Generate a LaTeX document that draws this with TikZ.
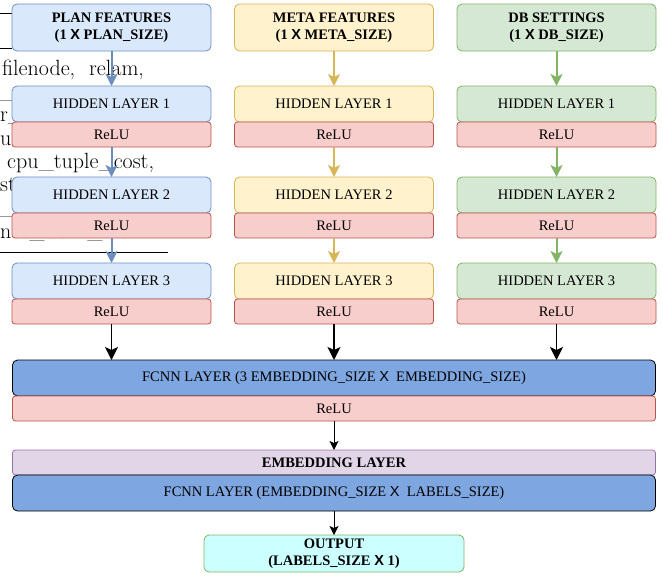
\documentclass[tikz,border=0pt]{standalone}
\usepackage{fontspec}
\usepackage{tikz}
\newfontfamily\labelfont{Liberation Serif}
\newfontfamily\crossfont{Liberation Sans}
\newcommand{\crossx}{{\crossfont X}}
\usetikzlibrary{shapes,arrows.meta,positioning}
\definecolor{planfill}{HTML}{DAE8FC}
\definecolor{plandraw}{HTML}{6C8EBF}
\definecolor{metafill}{HTML}{FFF2CC}
\definecolor{metadraw}{HTML}{D6B656}
\definecolor{dbfill}{HTML}{D5E8D4}
\definecolor{dbdraw}{HTML}{82B366}
\definecolor{relufill}{HTML}{F8CECC}
\definecolor{reludraw}{HTML}{B85450}
\definecolor{embfill}{HTML}{E1D5E7}
\definecolor{embdraw}{HTML}{9673A6}
\definecolor{fcnnfill}{HTML}{7EA6E0}
\definecolor{outfill}{HTML}{CCFFFF}
\tikzstyle{layer} = [draw, rectangle, rounded corners=5pt, line width=0.8pt,
minimum width=199pt, minimum height=36pt, inner sep=0pt, outer sep=0pt,
font=\labelfont\fontsize{14.5}{17}\selectfont]
\tikzstyle{feature} = [layer, minimum height=47pt, align=center,
font=\labelfont\bfseries\fontsize{14.5}{17}\selectfont]
\tikzstyle{relu} = [layer, rounded corners=3pt, minimum height=25pt,
fill=relufill, draw=reludraw, node contents=ReLU]
\tikzstyle{flow} = [line width=2pt, -{Stealth[length=12pt,width=12pt,inset=3pt]}]
\tikzstyle{merge} = [line width=1.6pt, -{Stealth[length=13pt,width=13pt,inset=3pt]}]
\tikzstyle{thinflow} = [line width=1pt, -{Stealth[length=9pt,width=9pt,inset=2pt]}]
\tikzstyle{bgtext} = [anchor=base west, inner sep=0pt, font=\fontsize{22}{24}\selectfont]

\begin{document}
\begin{tikzpicture}[x=1pt, y=-1pt]
		\useasboundingbox (0,0) rectangle (663,576);
		% text of the page behind the figure
		\draw (0,13) -- (12,13);
		\draw (0,48) -- (12,48);
		\draw (0,252) -- (168,252);
		\node(bgone)[bgtext] at (2,75) {filenode,\hspace{14pt}relam,};
		\node(bgtwo)[bgtext] at (0,98) {\_\ c};
		\node(bgthree)[bgtext] at (0,121.5) {r\_};
		\node(bgfour)[bgtext] at (0,145) {ul};
		\node(bgfive)[bgtext] at (7,168) {cpu\_tuple\_cost,};
		\node(bgsix)[bgtext] at (0,191) {st};
		\node(bgseven)[bgtext] at (0,214.5) {\_i};
		\node(bgeight)[bgtext] at (0,238) {nce\_work\_mem};
		
		% plan column
		\node(planfeat)[feature, fill=planfill, draw=plandraw] at (111.5,27.5) {PLAN FEATURES\\(1 \crossx{} PLAN\_SIZE)};
		\node(planhid1)[layer, fill=planfill, draw=plandraw, below=35pt of planfeat]{HIDDEN LAYER 1};
		\node(planrelu1)[relu, below=0pt of planhid1];
		\node(planhid2)[layer, fill=planfill, draw=plandraw, below=30pt of planrelu1]{HIDDEN LAYER 2};
		\node(planrelu2)[relu, below=0pt of planhid2];
		\node(planhid3)[layer, fill=planfill, draw=plandraw, below=25pt of planrelu2]{HIDDEN LAYER 3};
		\node(planrelu3)[relu, below=0pt of planhid3];
		
		% meta column
		\node(metafeat)[feature, fill=metafill, draw=metadraw] at (334,27.5) {META FEATURES\\(1 \crossx{} META\_SIZE)};
		\node(metahid1)[layer, fill=metafill, draw=metadraw, below=35pt of metafeat]{HIDDEN LAYER 1};
		\node(metarelu1)[relu, below=0pt of metahid1];
		\node(metahid2)[layer, fill=metafill, draw=metadraw, below=30pt of metarelu1]{HIDDEN LAYER 2};
		\node(metarelu2)[relu, below=0pt of metahid2];
		\node(metahid3)[layer, fill=metafill, draw=metadraw, below=25pt of metarelu2]{HIDDEN LAYER 3};
		\node(metarelu3)[relu, below=0pt of metahid3];
		
		% db column
		\node(dbfeat)[feature, fill=dbfill, draw=dbdraw] at (556.5,27.5) {DB SETTINGS\\(1 \crossx{} DB\_SIZE)};
		\node(dbhid1)[layer, fill=dbfill, draw=dbdraw, below=35pt of dbfeat]{HIDDEN LAYER 1};
		\node(dbrelu1)[relu, below=0pt of dbhid1];
		\node(dbhid2)[layer, fill=dbfill, draw=dbdraw, below=30pt of dbrelu1]{HIDDEN LAYER 2};
		\node(dbrelu2)[relu, below=0pt of dbhid2];
		\node(dbhid3)[layer, fill=dbfill, draw=dbdraw, below=25pt of dbrelu2]{HIDDEN LAYER 3};
		\node(dbrelu3)[relu, below=0pt of dbhid3];
		
		\draw[flow, plandraw] (planfeat) -- (planhid1);
		\draw[flow, plandraw] (planrelu1) -- (planhid2);
		\draw[flow, plandraw] (planrelu2) -- (planhid3);
		\draw[flow, metadraw] (metafeat) -- (metahid1);
		\draw[flow, metadraw] (metarelu1) -- (metahid2);
		\draw[flow, metadraw] (metarelu2) -- (metahid3);
		\draw[flow, dbdraw] (dbfeat) -- (dbhid1);
		\draw[flow, dbdraw] (dbrelu1) -- (dbhid2);
		\draw[flow, dbdraw] (dbrelu2) -- (dbhid3);
		
		% shared layers
		\node(fcnnjoin)[layer, minimum width=643pt, fill=fcnnfill, draw=black, below=36pt of metarelu3]{FCNN LAYER (3 EMBEDDING\_SIZE \crossx\ \ EMBEDDING\_SIZE)};
		\node(joinrelu)[relu, minimum width=643pt, below=0pt of fcnnjoin];
		\node(embedding)[layer, rounded corners=3pt, minimum width=643pt, minimum height=25pt, fill=embfill, draw=embdraw, font=\labelfont\bfseries\fontsize{14.5}{17}\selectfont, below=29pt of joinrelu]{EMBEDDING LAYER};
		\node(fcnnout)[layer, minimum width=643pt, fill=fcnnfill, draw=black, below=0pt of embedding]{FCNN LAYER (EMBEDDING\_SIZE \crossx\ \ LABELS\_SIZE)};
		\node(output)[feature, minimum width=260pt, minimum height=37pt, fill=outfill, draw=dbdraw, below=24pt of fcnnout]{OUTPUT\\(LABELS\_SIZE \crossx{} 1)};
		
		\draw[merge] (planrelu3.south) -- (planrelu3.south |- fcnnjoin.north);
		\draw[merge] (metarelu3.south) -- (metarelu3.south |- fcnnjoin.north);
		\draw[merge] (dbrelu3.south) -- (dbrelu3.south |- fcnnjoin.north);
		\draw[thinflow] (joinrelu) -- (embedding);
		\draw[thinflow] (fcnnout) -- (output);
\end{tikzpicture}
\end{document}
